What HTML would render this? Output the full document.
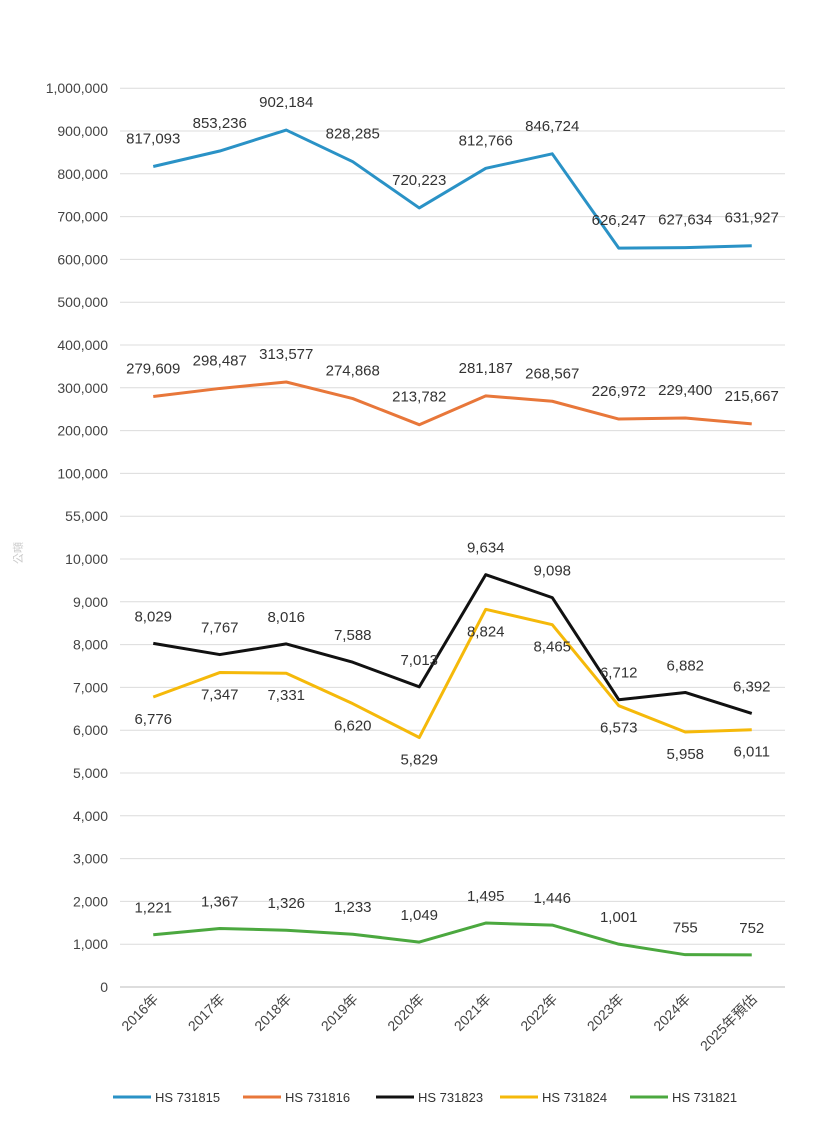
<!DOCTYPE html>
<html><head><meta charset="utf-8"><style>
html,body{margin:0;padding:0;background:#fff;}
svg{display:block;font-family:"Liberation Sans","Noto Sans CJK TC",sans-serif;}
</style></head><body>
<svg id="chart" width="814" height="1123" viewBox="0 0 814 1123" xmlns="http://www.w3.org/2000/svg">
<text x="22" y="553" transform="rotate(-90 22 553)" font-size="11" fill="#ccc" text-anchor="middle">公噸</text>
</svg>
<script>
const categories=["2016年","2017年","2018年","2019年","2020年","2021年","2022年","2023年","2024年","2025年預估"];
const tickValues=[0,1000,2000,3000,4000,5000,6000,7000,8000,9000,10000,55000,100000,200000,300000,400000,500000,600000,700000,800000,900000,1000000];
const tickLabels=["0","1,000","2,000","3,000","4,000","5,000","6,000","7,000","8,000","9,000","10,000","55,000","100,000","200,000","300,000","400,000","500,000","600,000","700,000","800,000","900,000","1,000,000"];
const seriesNames=["HS 731815","HS 731816","HS 731823","HS 731824","HS 731821"];
const s731815=[817093,853236,902184,828285,720223,812766,846724,626247,627634,631927];
const s731816=[279609,298487,313577,274868,213782,281187,268567,226972,229400,215667];
const s731823=[8029,7767,8016,7588,7013,9634,9098,6712,6882,6392];
const s731824=[6776,7347,7331,6620,5829,8824,8465,6573,5958,6011];
const s731821=[1221,1367,1326,1233,1049,1495,1446,1001,755,752];
const svg=document.getElementById('chart');const NS='http://www.w3.org/2000/svg';
const X0=120,X1=785,Y0=987,STEP=42.8;
function xPos(i){return X0+(X1-X0)/categories.length*(i+0.5);}
function yPos(v){for(let k=0;k<tickValues.length-1;k++){if(v<=tickValues[k+1]){const f=(v-tickValues[k])/(tickValues[k+1]-tickValues[k]);return Y0-(k+f)*STEP;}}return Y0-(tickValues.length-1)*STEP;}
function mk(t,a){const e=document.createElementNS(NS,t);for(const k in a)e.setAttribute(k,a[k]);svg.appendChild(e);return e;}
tickValues.forEach((v,i)=>{const y=yPos(v);
const g=mk('line',{x1:X0,x2:X1,y1:y,y2:y,stroke:i===0?'#bbb':'#dcdcdc','stroke-width':1});


const t=mk('text',{x:108,y:y+5,'text-anchor':'end','font-size':14,fill:'#444'});t.textContent=tickLabels[i];

});
categories.forEach((c,i)=>{const x=xPos(i)+6,y=1000;
const t=mk('text',{x:x,y:y,'text-anchor':'end','font-size':14,fill:'#444',transform:`rotate(-45 ${x} ${y})`});t.textContent=c;

});
const all=[s731815,s731816,s731823,s731824,s731821];
const colors=['#2a92c6','#e8773a','#111111','#f5b90a','#4ba83f'];
const offs=[-23,-23,-22,27,-22];
all.forEach((s,si)=>{const p=mk('polyline',{points:s.map((v,i)=>xPos(i)+','+yPos(v)).join(' '),fill:'none',stroke:colors[si],'stroke-width':3,'stroke-linejoin':'round'});


s.forEach((v,i)=>{const t=mk('text',{x:xPos(i),y:yPos(v)+offs[si],'text-anchor':'middle','font-size':15,fill:'#333'});t.textContent=v.toLocaleString('en-US');

});});
const lx=[113,243,376,500,630];
seriesNames.forEach((n,i)=>{const l=mk('line',{x1:lx[i],x2:lx[i]+38,y1:1097,y2:1097,stroke:colors[i],'stroke-width':3});


const t=mk('text',{x:lx[i]+42,y:1102,'font-size':13,fill:'#333'});t.textContent=n;

});
</script>
</body></html>
